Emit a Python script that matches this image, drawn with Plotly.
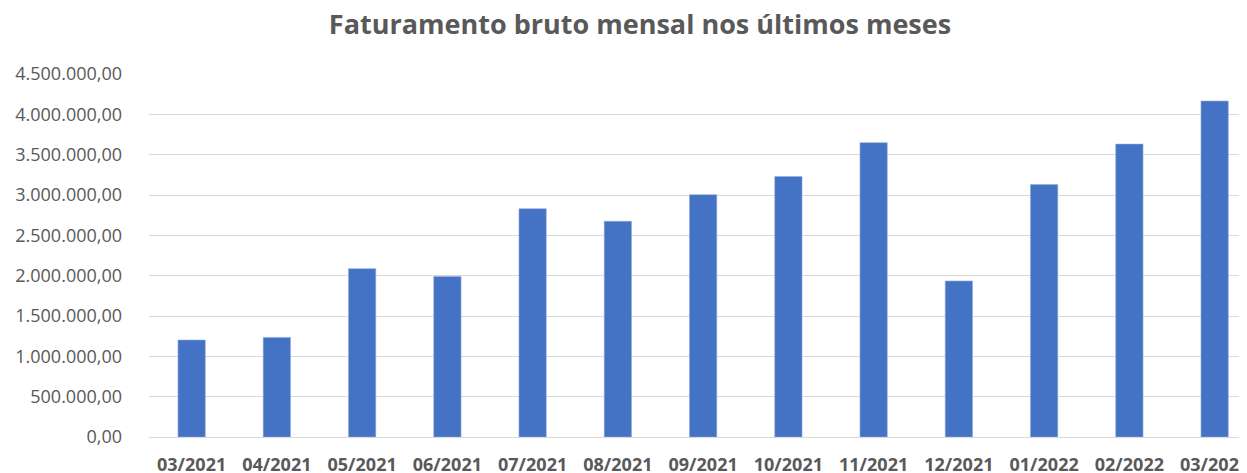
import plotly.graph_objects as go

categories = ["03/2021", "04/2021", "05/2021", "06/2021", "07/2021", "08/2021", "09/2021",
              "10/2021", "11/2021", "12/2021", "01/2022", "02/2022", "03/2022"]
faturamento = [1202000, 1235000, 2087000, 1990000, 2830000, 2674000, 3004000,
               3230000, 3649000, 1934000, 3129000, 3631000, 4165000]
y_ticks = [0, 500000, 1000000, 1500000, 2000000, 2500000, 3000000, 3500000, 4000000, 4500000]

# The page body has an 8px margin, so the figure is offset by (8, 8) in the window.
fig = go.Figure(go.Bar(
    x=categories,
    y=faturamento,
    width=0.32,
    marker=dict(color="#4472C4", line=dict(color="#8FAADC", width=0.6)),
))

fig.update_layout(
    width=1247, height=473,
    margin=dict(l=141, r=0, t=66, b=44, autoexpand=False),
    paper_bgcolor="white", plot_bgcolor="white",
    separators=",.",
    showlegend=False,
    title=dict(
        text="<b>Faturamento bruto mensal nos últimos meses</b>",
        x=632 / 1247, xref="container", xanchor="center",
        y=1 - 17 / 473, yref="container", yanchor="middle",
        font=dict(family="Open Sans", size=27, color="#595959"),
    ),
)
fig.update_xaxes(
    type="category",
    automargin=False,
    range=[-0.5, -0.5 + 1106 / 85.25],
    showgrid=False,
    showline=True, linecolor="#D9D9D9", linewidth=1,
    ticks="", ticklabelstandoff=11,
    tickfont=dict(family="Open Sans", size=18, color="#595959", weight="bold"),
)
fig.update_yaxes(
    automargin=False,
    range=[0, 4500000],
    tickvals=y_ticks,
    tickformat=",.2f",
    showgrid=True, gridcolor="#D9D9D9", gridwidth=1,
    zeroline=False,
    ticks="", ticklabelstandoff=26,
    tickfont=dict(family="Open Sans", size=18, color="#595959"),
)

fig.write_html("out.html")
